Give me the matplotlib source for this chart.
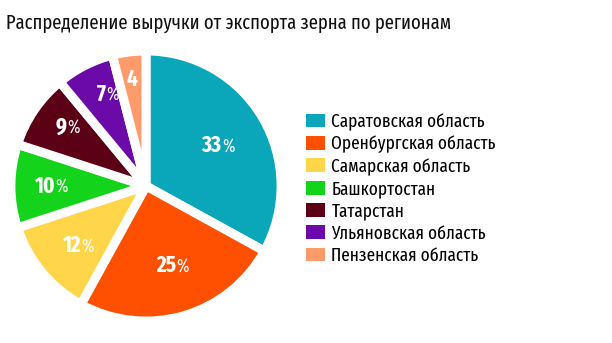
import matplotlib.pyplot as plt
from matplotlib.patches import Patch
import numpy as np

regions = ["Саратовская область", "Оренбургская область", "Самарская область",
           "Башкортостан", "Татарстан", "Ульяновская область", "Пензенская область"]
shares = [33, 25, 12, 10, 9, 7, 4]
labels = ["33", "25", "12", "10", "9", "7", "4"]
pct_signs = ["%", "%", "%", "%", "%", "%", ""]
colors = ["#0aa6ba", "#ff4f00", "#ffd54a", "#13d41a", "#5c0016", "#6b0aa8", "#ff9b6b"]

FONT_NARROW = ["Fira Sans Extra Condensed", "DejaVu Sans"]
W, H = 612, 343


def main() -> None:
    fig = plt.figure(figsize=(W / 100, H / 100), dpi=100)

    # square axes around the pie centre (146, 186) px
    side = 280
    cx, cy = 146, 186
    ax = fig.add_axes([(cx - side / 2) / W, (H - cy - side / 2) / H, side / W, side / H])
    wedges, _ = ax.pie(shares, colors=colors, startangle=90, counterclock=False,
                       radius=0.965,
                       wedgeprops=dict(edgecolor="white", linewidth=6.5, joinstyle="round"))
    ax.set_xlim(-1, 1)
    ax.set_ylim(-1, 1)
    ax.set_aspect("equal")
    ax.axis("off")

    # value labels inside wedges
    dists = [0.57, 0.59, 0.67, 0.70, 0.75, 0.74, 0.77]
    for w, lab, pct, d in zip(wedges, labels, pct_signs, dists):
        ang = np.deg2rad((w.theta1 + w.theta2) / 2)
        x, y = d * np.cos(ang), d * np.sin(ang)
        shift = 0.05 if pct else 0.0
        ax.text(x + shift, y, lab, color="white", fontsize=16.5, fontweight="bold",
                family=FONT_NARROW, stretch="condensed",
                ha="right" if pct else "center", va="center")
        if pct:
            ax.text(x + shift + 0.005, y - 0.005, pct, color="white", fontsize=13,
                    family=FONT_NARROW, stretch="condensed", ha="left", va="center")

    fig.text(6 / W, 1 - 23 / H, "Распределение выручки от экспорта зерна по регионам",
             fontsize=14.5, family=FONT_NARROW, stretch="condensed", color="#111111",
             va="center", ha="left")

    handles = [Patch(facecolor=c, edgecolor="none") for c in colors]
    fig.legend(handles, regions, loc="upper left",
               bbox_to_anchor=(306 / W, 1 - 113 / H), frameon=False,
               prop=dict(family=FONT_NARROW, stretch="condensed", size=13.5),
               handlelength=1.0, handleheight=0.75,
               handletextpad=0.35, labelspacing=0.24, borderaxespad=0, borderpad=0)

    fig.savefig("out.png", dpi=100)


if __name__ == "__main__":
    main()
